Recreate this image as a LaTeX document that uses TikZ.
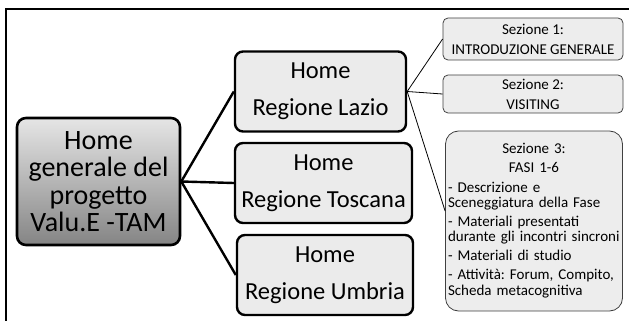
\documentclass[tikz,border=0pt]{standalone}
\usepackage{fontspec}
\setmainfont{Carlito}
\usepackage{tikz}
\usetikzlibrary{shapes,arrows}
\frenchspacing

\begin{document}
\begin{tikzpicture}[x=1pt,y=-1pt,
  rootbox/.style={draw,line width=2.6pt,rounded corners=9pt,top color=black!10,bottom color=black!48,
    align=center,font=\fontsize{28}{27.5}\selectfont,minimum width=163pt,minimum height=127pt,inner sep=2pt},
  regbox/.style={draw,line width=2.4pt,rounded corners=8pt,fill=black!8,
    align=center,font=\fontsize{24.5}{29.4}\selectfont,minimum height=80pt,inner sep=2pt},
  sezbox/.style={draw=black!75,line width=0.8pt,rounded corners=5pt,fill=black!7,
    align=center,font=\fontsize{15}{15}\selectfont,minimum width=180pt,inner sep=2pt},
  thickline/.style={line width=2.4pt},
  thinline/.style={line width=0.8pt}]
\useasboundingbox (0,0) rectangle (629,321);
% frame
\draw[line width=1.4pt] (6,321) -- (6,9) -- (629,9);

\node[rootbox] (root) at (98.5,181.5) {Home\\generale del\\progetto\\Valu.E -TAM};

\node[regbox,minimum width=171pt] (lazio) at (320.5,91.5) {Home\\[7.6pt]Regione Lazio};
\node[regbox,minimum width=177pt] (toscana) at (323.5,183) {Home\\[7.6pt]Regione Toscana};
\node[regbox,minimum width=176pt] (umbria) at (325,275) {Home\\[7.6pt]Regione Umbria};

\node[sezbox,minimum height=42pt] (sez1) at (533,39) {Sezione 1:\\[5pt]INTRODUZIONE GENERALE};
\node[sezbox,minimum height=38pt] (sez2) at (533,94) {Sezione 2:\\[5pt]VISITING};
\node[sezbox,rounded corners=13pt,minimum width=177pt,minimum height=180pt,text width=172pt,align=left,inner sep=2.5pt] (sez3) at (534,221)
  {\centering Sezione 3:\\[4pt]FASI 1-6\par\raggedright
   \vspace{5pt}- Descrizione e\\Sceneggiatura della Fase\\[4pt]
   - Materiali presentati\\durante gli incontri sincroni\\[4pt]
   - Materiali di studio\\[4pt]
   - Attività: Forum, Compito,\\[1pt]Scheda metacognitiva};

\draw[thickline] (root.east) -- (lazio.west);
\draw[thickline] (root.east) -- (toscana.west);
\draw[thickline] (root.east) -- (umbria.west);

\draw[thinline] (lazio.east) -- (sez1.west);
\draw[thinline] (lazio.east) -- (sez2.west);
\draw[thinline] (lazio.east) -- ([yshift=10pt]sez3.west);
\end{tikzpicture}
\end{document}
